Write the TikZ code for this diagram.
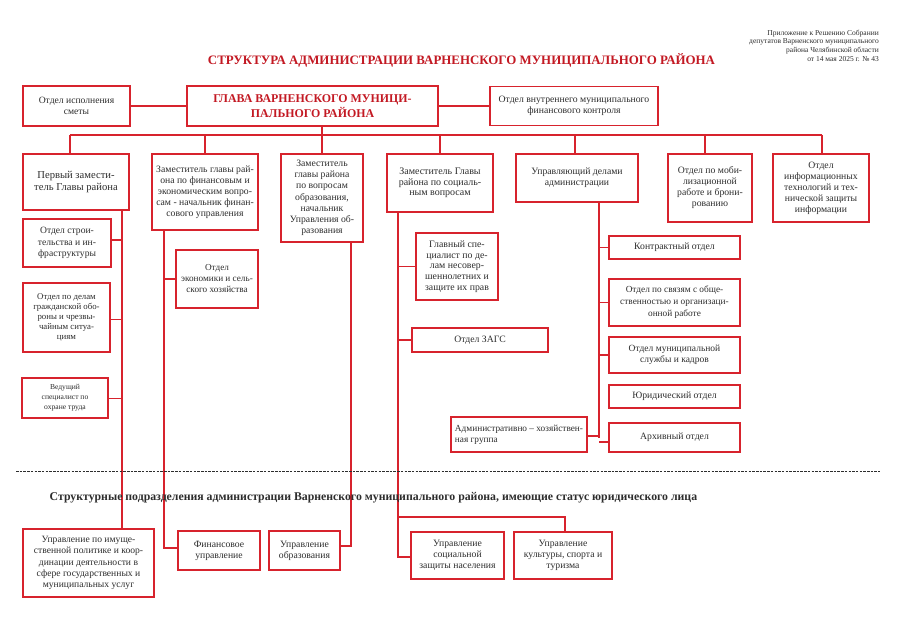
\documentclass[tikz,border=0pt]{standalone}
\usepackage{fontspec}
\setmainfont{Liberation Serif}
\newcommand\fz[2]{\fontsize{#1}{#2}\selectfont}
\definecolor{lred}{RGB}{215,35,45}
\definecolor{tred}{RGB}{195,25,35}
\definecolor{txt}{RGB}{45,45,45}
\tikzset{
  box/.style={draw=lred, line width=1.4pt, align=center, inner sep=1pt, text=txt, font=\fz{9.7}{11}},
  conn/.style={draw=lred, line width=1.3pt},
  sepline/.style={draw=txt, line width=0.8pt, dash pattern=on 2.5pt off 1.2pt}
}
\begin{document}
\begin{tikzpicture}[x=1pt,y=-1pt]
\useasboundingbox[fill=white] (0,0) rectangle (900,636);

% header
\node[anchor=north east, align=right, text=txt, font=\fz{7.5}{8.7}, inner sep=0pt] (hdr) at (879,29.5)
  {Приложение к Решению Собрании\\депутатов Варненского муниципального\\района Челябинской области\\от 14 мая 2025 г. № 43};
\node[text=tred, font=\bfseries\fz{12.9}{15}, inner sep=0pt] (title) at (461.5,60)
  {СТРУКТУРА АДМИНИСТРАЦИИ ВАРНЕНСКОГО МУНИЦИПАЛЬНОГО РАЙОНА};

% top row
\node[box, minimum width=107pt, minimum height=40pt, font=\fz{9.6}{11}] (smeta) at (76.5,106) {Отдел исполнения\\сметы};
\node[box, minimum width=251pt, minimum height=40pt, font=\bfseries\fz{11.9}{15}, text=tred] (glava) at (312.5,106) {ГЛАВА ВАРНЕНСКОГО МУНИЦИ-\\ПАЛЬНОГО РАЙОНА};
\node[box, minimum width=168pt, minimum height=39pt] (kontrol) at (574,106) {Отдел внутреннего муниципального\\финансового контроля};

% second row
\node[box, minimum width=106pt, minimum height=56pt, font=\fz{10.6}{12}] (zam1) at (76,182) {Первый замести-\\тель Главы района};
\node[box, minimum width=106pt, minimum height=76pt] (zamfin) at (205,192) {Заместитель главы рай-\\она по финансовым и\\экономическим вопро-\\сам - начальник финан-\\сового управления};
\node[box, minimum width=82pt, minimum height=88pt, font=\fz{9.7}{11.2}] (zamobr) at (322,198) {Заместитель\\главы района\\по вопросам\\образования,\\начальник\\Управления об-\\разования};
\node[box, minimum width=106pt, minimum height=58pt, font=\fz{10}{10.7}] (zamsoc) at (440,183) {Заместитель Главы\\района по социаль-\\ным вопросам};
\node[box, minimum width=122pt, minimum height=48pt] (upravdel) at (577,178) {Управляющий делами\\администрации};
\node[box, minimum width=84pt, minimum height=68pt] (mob) at (710,188) {Отдел по моби-\\лизационной\\работе и брони-\\рованию};
\node[box, minimum width=96pt, minimum height=68pt] (it) at (821,188) {Отдел\\информационных\\технологий и тех-\\нической защиты\\информации};

% column 1
\node[box, minimum width=88pt, minimum height=48pt, font=\fz{9.6}{11.7}] (stroi) at (67,243) {Отдел строи-\\тельства и ин-\\фраструктуры};
\node[box, minimum width=87pt, minimum height=69pt, font=\fz{8.8}{10.2}, line width=1.8pt] (go) at (66.5,317.5) {Отдел по делам\\гражданской обо-\\роны и чрезвы-\\чайным ситуа-\\циям};
\node[box, minimum width=86pt, minimum height=40pt, font=\fz{7.6}{10}, line width=1.8pt] (ohrana) at (65,398) {Ведущий\\специалист по\\охране труда};
\node[box, minimum width=131pt, minimum height=68pt, font=\fz{9.6}{11.3}] (imush) at (88.5,563) {Управление по имуще-\\ственной политике и коор-\\динации деятельности в\\сфере государственных и\\муниципальных услуг};

% column 2
\node[box, minimum width=82pt, minimum height=58pt, font=\fz{9.2}{11}] (econ) at (217,279) {Отдел\\экономики и сель-\\ского хозяйства};
\node[box, minimum width=82pt, minimum height=39pt] (finupr) at (219,550.5) {Финансовое\\управление};

% column 3
\node[box, minimum width=71pt, minimum height=39pt] (uprobr) at (304.5,550.5) {Управление\\образования};

% column 4
\node[box, minimum width=82pt, minimum height=67pt, font=\fz{9.8}{10.8}] (glspec) at (457,266.5) {Главный спе-\\циалист по де-\\лам несовер-\\шеннолетних и\\защите их прав};
\node[box, minimum width=136pt, minimum height=24pt] (zags) at (480,340) {Отдел ЗАГС};
\node[box, minimum width=93pt, minimum height=47pt] (socz) at (457.5,555.5) {Управление\\социальной\\защиты населения};
\node[box, minimum width=98pt, minimum height=47pt] (kult) at (563,555.5) {Управление\\культуры, спорта и\\туризма};

% column 5
\node[box, minimum width=131pt, minimum height=23pt] (kontr) at (674.5,247.5) {Контрактный отдел};
\node[box, minimum width=131pt, minimum height=47pt, font=\fz{9.3}{12}] (svyaz) at (674.5,302.5) {Отдел по связям с обще-\\ственностью и организаци-\\онной работе};
\node[box, minimum width=131pt, minimum height=36pt, font=\fz{9.5}{11.5}] (mun) at (674.5,355) {Отдел муниципальной\\службы и кадров};
\node[box, minimum width=131pt, minimum height=23pt] (yur) at (674.5,396.5) {Юридический отдел};
\node[box, minimum width=131pt, minimum height=29pt] (arhiv) at (674.5,437.5) {Архивный отдел};
\node[box, minimum width=136pt, minimum height=35pt, align=left, font=\fz{9.3}{11}] (ahg) at (519,434.5) {Административно – хозяйствен-\\ная группа};

% coordinates
\coordinate (busL) at (70,135);
\coordinate (busR) at (822,135);
\coordinate (v1) at (122,0);
\coordinate (v2) at (164,0);
\coordinate (v3) at (351,0);
\coordinate (v4) at (398,0);
\coordinate (v5) at (599,0);
\coordinate (kb) at (398,517);

% connectors top
\draw[conn] (smeta.east) -- (glava.west);
\draw[conn] (glava.east) -- (kontrol.west);
\draw[conn] (busL) -- (busR);
\draw[conn] (glava.south -| zamobr.north) -- (zamobr.north);
\draw[conn] (busL) -- (busL |- zam1.north);
\draw[conn] (zamfin.north |- busL) -- (zamfin.north);
\draw[conn] (zamsoc.north |- busL) -- (zamsoc.north);
\draw[conn] ([xshift=-2pt]upravdel.north |- busL) -- ([xshift=-2pt]upravdel.north);
\draw[conn] ([xshift=-5pt]mob.north |- busL) -- ([xshift=-5pt]mob.north);
\draw[conn] (busR) -- (busR |- it.north);

% column 1
\draw[conn] (v1 |- zam1.south) -- (v1 |- imush.north);
\draw[conn] ([yshift=3pt]stroi.east) -- ([yshift=3pt]stroi.east -| v1);
\draw[conn, line width=0.8pt] ([yshift=-1.5pt]go.east) -- ([yshift=-1.5pt]go.east -| v1);
\draw[conn, line width=0.8pt] (ohrana.east) -- (ohrana.east -| v1);

% column 2
\draw[conn] (v2 |- zamfin.south) |- ([yshift=2.5pt]finupr.west);
\draw[conn] (econ.west) -- (econ.west -| v2);

% column 3
\draw[conn] (v3 |- zamobr.south) |- ([yshift=4.5pt]uprobr.east);

% column 4
\draw[conn] (v4 |- zamsoc.south) |- ([yshift=-1.5pt]socz.west);
\draw[conn] (glspec.west) -- (glspec.west -| v4);
\draw[conn] (zags.west) -- (zags.west -| v4);
\draw[conn] (kb) -| ([xshift=2pt]kult.north);

% column 5
\draw[conn] (v5 |- upravdel.south) -- (v5 |- arhiv.west);
\draw[conn] (kontr.west) -- (kontr.west -| v5);
\draw[conn] (svyaz.west) -- (svyaz.west -| v5);
\draw[conn] (mun.west) -- (mun.west -| v5);
\draw[conn] ([yshift=-4.5pt]arhiv.west) -- ([yshift=-4.5pt]arhiv.west -| v5);
\draw[conn] ([yshift=-1.5pt]ahg.east) -- ([yshift=-1.5pt]ahg.east -| v5);

% separator and subtitle
\draw[sepline] (16,471) -- (880,471);
\node[text=txt, font=\bfseries\fz{11.8}{14}, inner sep=0pt] (sub) at (373.5,498)
  {Структурные подразделения администрации Варненского муниципального района, имеющие статус юридического лица};
\end{tikzpicture}
\end{document}
